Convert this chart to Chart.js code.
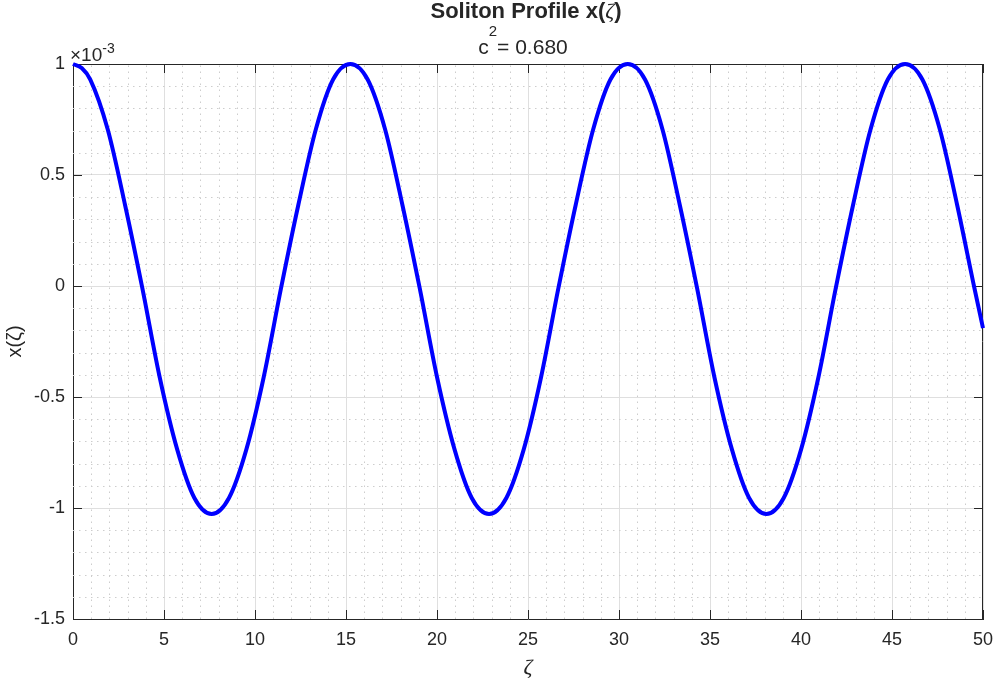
<!DOCTYPE html>
<html>
<head>
<meta charset="utf-8">
<script src="https://cdn.jsdelivr.net/npm/chart.js@4"></script>
<style>
  html, body { margin: 0; padding: 0; background: #fff; }
  canvas { display: block; }
</style>
</head>
<body>
<canvas id="chart" width="997" height="681"></canvas>
<script>
/* Soliton profile x(zeta) — MATLAB-style line plot */

// values (y in units of 1e-3)
const ZETA = [
  0.00, 0.48, 0.95, 1.91, 2.86, 3.81, 4.76, 5.72, 6.67, 7.62,
  8.57, 9.53, 10.48, 11.43, 12.38, 13.34, 14.29, 15.24,
  16.19, 17.15, 18.10, 19.05, 20.00, 20.96, 21.91, 22.86,
  23.81, 24.77, 25.72, 26.67, 27.62, 28.58, 29.53, 30.48,
  31.43, 32.39, 33.34, 34.29, 35.24, 36.20, 37.15, 38.10,
  39.05, 40.01, 40.96, 41.91, 42.86, 43.82, 44.77, 45.72,
  46.67, 47.63, 48.58, 49.53, 50.00
];
const PROFILE = [
  1.000, 0.982, 0.930, 0.705, 0.365, -0.010, -0.410, -0.735, -0.955, -1.027,
  -0.955, -0.735, -0.410, -0.010, 0.365, 0.705, 0.930, 1.000,
  0.930, 0.705, 0.365, -0.010, -0.410, -0.735, -0.955, -1.027,
  -0.955, -0.735, -0.410, -0.010, 0.365, 0.705, 0.930, 1.000,
  0.930, 0.705, 0.365, -0.010, -0.410, -0.735, -0.955, -1.027,
  -0.955, -0.735, -0.410, -0.010, 0.365, 0.705, 0.930, 1.000,
  0.930, 0.705, 0.365, -0.010, -0.190
];
const X_TICKS = [0, 5, 10, 15, 20, 25, 30, 35, 40, 45, 50];
const Y_TICKS = [-1.5, -1, -0.5, 0, 0.5, 1];

const TITLE_PARTS = ['Soliton Profile x(', '\u03B6', ')'];
const SUBTITLE_PARTS = ['c', '2', '= 0.680'];
const X_LABEL = '\u03B6';
const Y_LABEL = 'x(\u03B6)';
const EXPONENT = '-3';

const AXIS_COLOR = '#262626';
const MAJOR_GRID = '#dfdfdf';
const MINOR_GRID = '#cdcdcd';
const LINE_BLUE = '#0000ff';
const FONT = '"Liberation Sans", Arial, Helvetica, sans-serif';
const SERIF = '"Liberation Serif", "Times New Roman", serif';

// draws a run of [text, font, dy] pieces centred on cx
function drawRuns(ctx, runs, cx, baseY) {
  let total = 0;
  runs.forEach(function(r) { ctx.font = r[1]; total += ctx.measureText(r[0]).width; });
  let x = cx - total / 2;
  runs.forEach(function(r) {
    ctx.font = r[1];
    ctx.fillText(r[0], x, baseY + (r[2] || 0));
    x += ctx.measureText(r[0]).width;
  });
}

const matlabAxes = {
  id: 'matlabAxes',
  beforeDatasetsDraw(chart) {
    const ctx = chart.ctx;
    const a = chart.chartArea;
    const xs = chart.scales.x, ys = chart.scales.y;
    ctx.save();
    // minor grid, dotted
    ctx.strokeStyle = MINOR_GRID;
    ctx.lineWidth = 1;
    ctx.setLineDash([1.5, 4.5]);
    ctx.beginPath();
    for (let i = 1; i < 50; i++) {
      if (i % 5 === 0) continue;
      const px = Math.round(xs.getPixelForValue(i)) + 0.5;
      ctx.moveTo(px, a.bottom); ctx.lineTo(px, a.top);
    }
    for (let i = -14; i < 10; i++) {
      if (i % 5 === 0) continue;
      const py = Math.round(ys.getPixelForValue(i / 10)) + 0.5;
      ctx.moveTo(a.left, py); ctx.lineTo(a.right, py);
    }
    ctx.stroke();
    ctx.setLineDash([]);

    // box: top and right edges
    ctx.strokeStyle = AXIS_COLOR;
    ctx.lineWidth = 1;
    ctx.beginPath();
    ctx.moveTo(a.left, a.top + 0.5); ctx.lineTo(a.right, a.top + 0.5);
    ctx.moveTo(a.right - 0.5, a.top); ctx.lineTo(a.right - 0.5, a.bottom);
    ctx.stroke();

    // inward tick marks on all four sides
    const len = 9;
    ctx.beginPath();
    X_TICKS.forEach(function(v) {
      const px = Math.round(xs.getPixelForValue(v)) + 0.5;
      ctx.moveTo(px, a.bottom); ctx.lineTo(px, a.bottom - len);
      ctx.moveTo(px, a.top); ctx.lineTo(px, a.top + len);
    });
    Y_TICKS.forEach(function(v) {
      const py = Math.round(ys.getPixelForValue(v)) + 0.5;
      ctx.moveTo(a.left, py); ctx.lineTo(a.left + len, py);
      ctx.moveTo(a.right, py); ctx.lineTo(a.right - len, py);
    });
    ctx.stroke();

    // exponent label above the y axis
    ctx.fillStyle = AXIS_COLOR;
    ctx.textAlign = 'left';
    ctx.textBaseline = 'alphabetic';
    ctx.font = '19px ' + FONT;
    const base = '\u00D710';
    ctx.fillText(base, a.left - 3, a.top - 3);
    const w = ctx.measureText(base).width;
    ctx.font = '14px ' + FONT;
    ctx.fillText(EXPONENT, a.left - 3 + w, a.top - 11);

    // title and subtitle, centred over the axes
    const cx = (a.left + a.right) / 2 - 2;
    drawRuns(ctx, [
      [TITLE_PARTS[0], 'bold 22px ' + FONT],
      [TITLE_PARTS[1], 'italic 22px ' + SERIF],
      [TITLE_PARTS[2], 'bold 22px ' + FONT]
    ], cx, 18);
    drawRuns(ctx, [
      [SUBTITLE_PARTS[0], '21px ' + FONT],
      [SUBTITLE_PARTS[1], '15px ' + FONT, -18],
      [SUBTITLE_PARTS[2], '21px ' + FONT]
    ], cx - 3, 54);
    ctx.restore();
  }
};

const points = ZETA.map(function(z, i) { return { x: z, y: PROFILE[i] }; });

new Chart(document.getElementById('chart'), {
  type: 'line',
  data: {
    datasets: [{
      data: points,
      borderColor: LINE_BLUE,
      borderWidth: 4,
      pointRadius: 0,
      fill: false,
      cubicInterpolationMode: 'monotone',
      clip: false
    }]
  },
  options: {
    responsive: false,
    animation: false,
    devicePixelRatio: 1,
    layout: { padding: { left: 0, right: 14, top: 64, bottom: 0 } },
    scales: {
      x: {
        type: 'linear', min: 0, max: 50,
        afterFit: function(s) { s.height = 62; s.paddingLeft = 0; s.paddingRight = 0; },
        ticks: { stepSize: 5, color: AXIS_COLOR, padding: 10, font: { family: FONT, size: 18 }, maxRotation: 0 },
        grid: { color: MAJOR_GRID, drawTicks: false },
        border: { color: AXIS_COLOR, width: 1 },
        title: { display: true, text: X_LABEL, color: AXIS_COLOR, padding: { top: 0, bottom: 0 },
                 font: { family: SERIF, size: 22, style: 'italic' } }
      },
      y: {
        min: -1.5, max: 1,
        afterFit: function(s) { s.width = 73; s.paddingTop = 0; s.paddingBottom = 0; },
        ticks: {
          stepSize: 0.5, color: AXIS_COLOR, padding: 8, font: { family: FONT, size: 18 },
          callback: function(v) { return String(+v.toFixed(2)); }
        },
        grid: { color: MAJOR_GRID, drawTicks: false },
        border: { color: AXIS_COLOR, width: 1 },
        title: { display: true, text: Y_LABEL, color: AXIS_COLOR, padding: { top: 3, bottom: 0 },
                 font: { family: FONT, size: 20 } }
      }
    },
    plugins: {
      legend: { display: false },
      tooltip: { enabled: false }
    }
  },
  plugins: [matlabAxes]
});
</script>
</body>
</html>
